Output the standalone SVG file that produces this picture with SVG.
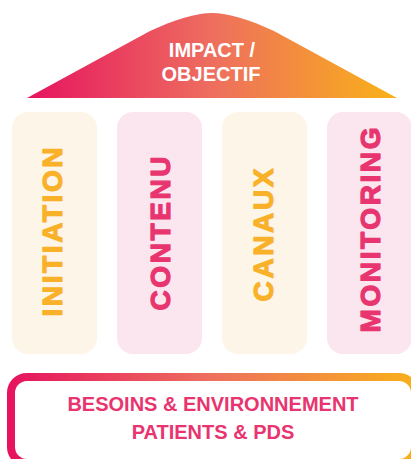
<svg xmlns="http://www.w3.org/2000/svg" width="411" height="459" viewBox="0 0 411 459">
<defs>
<linearGradient id="roofGrad" gradientUnits="userSpaceOnUse" x1="27" y1="0" x2="397" y2="0">
<stop offset="0" stop-color="#E6145F"/>
<stop offset="0.5" stop-color="#EE6E5F"/>
<stop offset="1" stop-color="#F9B217"/>
</linearGradient>
<linearGradient id="boxGrad" gradientUnits="userSpaceOnUse" x1="7" y1="0" x2="411" y2="0">
<stop offset="0" stop-color="#E6125E"/>
<stop offset="0.5" stop-color="#EE6F5E"/>
<stop offset="1" stop-color="#F8AE1C"/>
</linearGradient>
<style>
.cream{fill:#FDF5E7}
.pink{fill:#FBE5EE}
.ptxt{font-family:"Liberation Sans",Arial,sans-serif;font-weight:bold;font-size:28px;letter-spacing:2.6px;text-anchor:middle;stroke-width:1.2px;stroke-linejoin:round}
.orange{fill:#F9B12A;stroke:#F9B12A}
.magenta{fill:#E8346F;stroke:#E8346F}
.roofTxt{font-family:"Liberation Sans",Arial,sans-serif;font-weight:bold;font-size:20px;fill:#FFFFFF;text-anchor:middle}
.baseTxt{font-family:"Liberation Sans",Arial,sans-serif;font-weight:bold;font-size:20px;fill:#E8346F;text-anchor:middle}
</style>
</defs>
<g id="roof">
<path d="M27 98 L150 31 C175 19.5 196 13 212 13 C228 13 249 19.5 274 31 L397 98 Z" fill="url(#roofGrad)"/>
<text class="roofTxt" x="212" y="57">IMPACT /</text>
<text class="roofTxt" x="211" y="81">OBJECTIF</text>
</g>
<g id="initiation">
<rect class="cream" x="12" y="112" width="85" height="242" rx="16"/>
<text class="ptxt orange" transform="translate(52 232) rotate(-90)" x="1.3" y="10">INITIATION</text>
</g>
<g id="contenu">
<rect class="pink" x="117" y="112" width="85" height="242" rx="16"/>
<text class="ptxt magenta" transform="translate(159.5 233.5) rotate(-90)" x="1.3" y="10">CONTENU</text>
</g>
<g id="canaux">
<rect class="cream" x="222" y="112" width="85" height="242" rx="16"/>
<text class="ptxt orange" transform="translate(262.7 235) rotate(-90)" x="1.3" y="10">CANAUX</text>
</g>
<g id="monitoring">
<rect class="pink" x="327" y="112" width="85" height="242" rx="16"/>
<text class="ptxt magenta" transform="translate(369.5 230) rotate(-90)" x="1.3" y="10">MONITORING</text>
</g>
<g id="connectors"></g>
<g id="base">
<rect x="11" y="377" width="404" height="86" rx="16" fill="#FFFFFF" stroke="url(#boxGrad)" stroke-width="8"/>
<text class="baseTxt" x="213" y="411">BESOINS &amp; ENVIRONNEMENT</text>
<text class="baseTxt" x="213" y="439">PATIENTS &amp; PDS</text>
</g>
</svg>
